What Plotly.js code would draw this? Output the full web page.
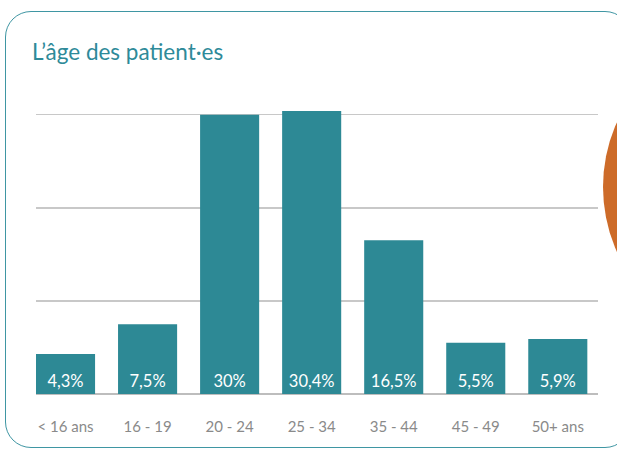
<!DOCTYPE html>
<html>
<head>
<meta charset="utf-8">
<script src="https://cdn.plot.ly/plotly-3.0.1.min.js"></script>
<style>
  html, body { margin: 0; padding: 0; background: #ffffff; overflow: hidden; }
  #frame { position: absolute; left: 5px; top: 11px; width: 626px; height: 437px;
           border: 1.5px solid #3f96a3; border-radius: 26px; box-sizing: border-box; }
  #blob { position: absolute; left: 603px; top: 29px; width: 316px; height: 316px;
          border-radius: 50%; background: #cd6b29; }
  #chart { position: absolute; left: 0; top: 0; width: 617px; height: 449px; }
</style>
</head>
<body>
<div id="frame"></div>
<div id="blob"></div>
<div id="chart"></div>
<script>
const categories = ["< 16 ans", "16 - 19", "20 - 24", "25 - 34", "35 - 44", "45 - 49", "50+ ans"];
const shares = [4.3, 7.5, 30, 30.4, 16.5, 5.5, 5.9];
const barLabels = shares.map(v => String(v).replace('.', ',') + '%');
const gridValues = [10, 20, 30];

const teal = '#2d8995';

Plotly.newPlot('chart', [{
  type: 'bar',
  x: categories,
  y: shares,
  width: 0.72,
  marker: { color: teal },
  text: barLabels,
  textposition: 'inside',
  insidetextanchor: 'start',
  textangle: 0,
  constraintext: 'none',
  textfont: { family: 'Lato, sans-serif', size: 16.5, color: '#ffffff' },
  hoverinfo: 'none'
}], {
  width: 617,
  height: 449,
  margin: { l: 36, r: 19, t: 110, b: 55, pad: 0 },
  paper_bgcolor: 'rgba(0,0,0,0)',
  plot_bgcolor: 'rgba(0,0,0,0)',
  showlegend: false,
  title: {
    text: 'L’âge des patient·es',
    x: 32 / 617, xanchor: 'left', xref: 'container',
    y: 1 - 52 / 449, yanchor: 'middle', yref: 'container',
    font: { family: 'Lato, sans-serif', size: 22.5, color: '#2e8a99' }
  },
  xaxis: {
    type: 'category',
    range: [-0.36, 6.49],
    showgrid: false,
    showline: false,
    ticks: '',
    ticklabelstandoff: 22,
    tickfont: { family: 'Lato, sans-serif', size: 15, color: '#8a8a8a' },
    fixedrange: true
  },
  yaxis: {
    range: [0, 30.5],
    tickvals: gridValues,
    showticklabels: false,
    showgrid: true,
    gridcolor: '#c8c8c8',
    gridwidth: 1.5,
    zeroline: true,
    zerolinecolor: '#bdbdbd',
    zerolinewidth: 2.5,
    fixedrange: true
  }
}, { displayModeBar: false, staticPlot: true });
</script>
</body>
</html>
